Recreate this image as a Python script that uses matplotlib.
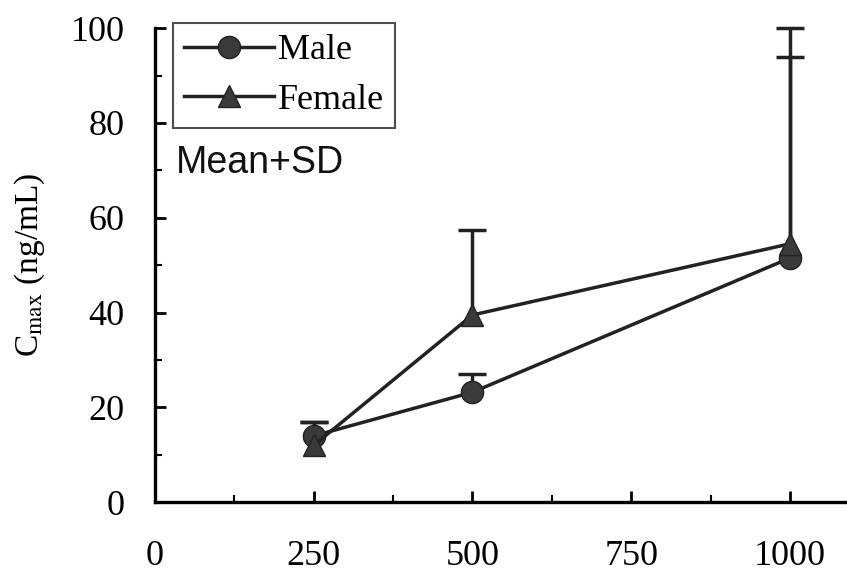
import numpy as np
import matplotlib.pyplot as plt
from matplotlib.ticker import MultipleLocator
from matplotlib.lines import Line2D

# Cmax by dose, mean and upper SD
doses = [250, 500, 1000]
male_mean = [14.0, 23.2, 51.5]
male_sd = [3.0, 3.8, 42.5]
female_mean = [12.0, 39.5, 54.5]
female_sd = [5.0, 18.0, 45.5]

x_ticks = [0, 250, 500, 750, 1000]
y_ticks = [0, 20, 40, 60, 80, 100]

plt.rcParams['font.family'] = ['Liberation Serif', 'DejaVu Serif']
plt.rcParams['mathtext.fontset'] = 'stix'

fig = plt.figure(figsize=(8.47, 5.74), dpi=100)
ax = fig.add_axes([0.183, 0.125, 0.817, 0.826])

col = '#222222'
series = [(male_mean, male_sd, 'o'), (female_mean, female_sd, '^')]
for mean, sd, mk in series:
    line, caps, bars = ax.errorbar(doses, mean, yerr=[np.zeros(len(sd)), sd],
                                   color=col, lw=2.5, marker=mk, ms=16,
                                   mfc='#3a3a3a', mec=col, capsize=10,
                                   capthick=2.5, elinewidth=2.5, clip_on=False)
    # only the upper SD is shown, drop the cap sitting on the mean
    caps[0].set_visible(False)

ax.set_xlim(0, 1090)
ax.set_ylim(0, 100)
ax.set_xticks(x_ticks)
ax.set_yticks(y_ticks)
ax.xaxis.set_minor_locator(MultipleLocator(125))
ax.yaxis.set_minor_locator(MultipleLocator(10))
ax.tick_params(which='major', direction='in', length=8, width=2, labelsize=26)
ax.tick_params(which='minor', direction='in', length=5, width=1.5)
ax.tick_params(axis='y', pad=22)
ax.tick_params(axis='x', pad=27)
ax.spines['top'].set_visible(False)
ax.spines['right'].set_visible(False)
ax.spines['left'].set_linewidth(2.4)
ax.spines['bottom'].set_linewidth(2.4)

ax.set_ylabel('C$_{\\mathrm{max}}$ (ng/mL)', fontsize=24)
ax.yaxis.set_label_coords(-0.156, 0.5)

handles = [Line2D([], [], color=col, lw=2.5, marker='o', ms=16, mfc='#3a3a3a', mec=col),
           Line2D([], [], color=col, lw=2.5, marker='^', ms=16, mfc='#3a3a3a', mec=col)]
leg = ax.legend(handles, ['Male', 'Female'], loc='upper left',
                bbox_to_anchor=(0.026, 1.01), fontsize=26,
                frameon=True, fancybox=False, edgecolor='#222222',
                handlelength=2.5, handletextpad=0.1, borderpad=0.3,
                labelspacing=0.45, borderaxespad=0.0)
leg.get_frame().set_linewidth(1.5)

ax.text(0.03, 0.695, 'Mean+SD', transform=ax.transAxes, fontsize=27,
        family=['Liberation Sans', 'DejaVu Sans'], color='#111111')

fig.savefig('out.png', dpi=100)
